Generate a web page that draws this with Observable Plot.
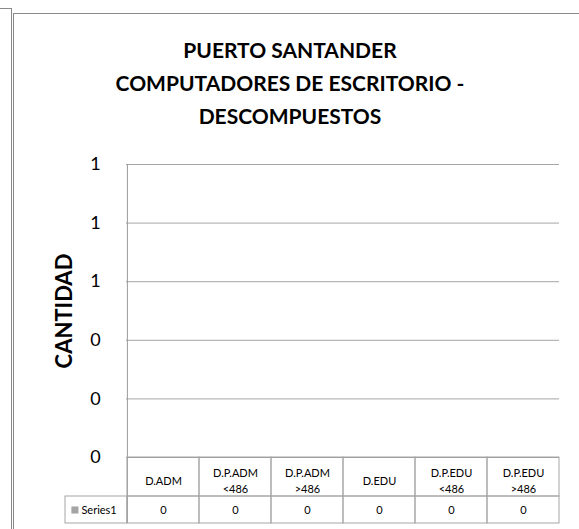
<!DOCTYPE html>
<html><head><meta charset="utf-8">
<script src="https://cdn.jsdelivr.net/npm/d3@7"></script>
<script src="https://cdn.jsdelivr.net/npm/@observablehq/plot@0.6"></script>
<style>
html,body{margin:0;padding:0;width:579px;height:529px;overflow:hidden;background:#fff;font-family:Lato,sans-serif;}
#prev{position:absolute;left:-10px;top:8px;width:21px;height:600px;border-top:1px solid #8a8a8a;border-right:1px solid #8a8a8a;}
#box{position:absolute;left:13px;top:13px;width:700px;height:700px;border-left:1px solid #8a8a8a;border-top:1px solid #8a8a8a;}
#title{position:absolute;left:0;top:33px;width:580px;text-align:center;font-weight:bold;font-size:21px;line-height:33px;color:#000;}
#chart{position:absolute;left:0;top:140px;}
</style></head><body>
<div id="prev"></div>
<div id="box"></div>
<div id="title"></div>
<div id="chart"></div>
<script>
const titleLines = ["PUERTO SANTANDER", "COMPUTADORES DE ESCRITORIO -", "DESCOMPUESTOS"];
const categories = ["D.ADM", "D.P.ADM\n<486", "D.P.ADM\n>486", "D.EDU", "D.P.EDU\n<486", "D.P.EDU\n>486"];
const series1 = [0, 0, 0, 0, 0, 0];
const seriesName = "Series1";
const yTicks = [0, 0.2, 0.4, 0.6, 0.8, 1];
const yLabel = "CANTIDAD";

const data = categories.map((c, i) => ({cat: c, value: series1[i]}));

const titleEl = document.getElementById("title");
titleLines.forEach((t, i) => {
  if (i) titleEl.appendChild(document.createElement("br"));
  titleEl.appendChild(document.createTextNode(t));
});

const W = 579, H = 389, mT = 24, mB = 72, mL = 126, mR = 20;
const bw = (W - mL - mR) / categories.length;
const frameH = H - mT - mB;
const headH = 39, rowH = 27;
const lineC = "#a6a6a6";

const chart = Plot.plot({
  width: W, height: H,
  marginTop: mT, marginBottom: mB, marginLeft: mL, marginRight: mR,
  style: {fontFamily: "Lato, sans-serif", color: "#000", background: "transparent", overflow: "visible"},
  x: {domain: categories, padding: 0, axis: null},
  y: {domain: [0, 1], axis: null},
  marks: [
    Plot.gridY(yTicks, {stroke: lineC, strokeOpacity: 1}),
    Plot.barY(data, {x: "cat", y: "value", fill: "#a5a5a5"}),
    Plot.ruleY([0], {stroke: "#9a9a9a"}),
    Plot.ruleX([categories[0]], {dx: -bw / 2, insetBottom: -(headH + rowH), stroke: "#9a9a9a"}),
    Plot.cell(categories, {x: d => d, insetTop: frameH, insetBottom: -headH, stroke: lineC, fill: "none"}),
    Plot.cell(categories, {x: d => d, insetTop: frameH + headH, insetBottom: -(headH + rowH), stroke: lineC, fill: "none"}),
    Plot.cell([categories[0]], {x: d => d, dx: -bw, insetLeft: bw - 62, insetTop: frameH + headH, insetBottom: -(headH + rowH), stroke: lineC, fill: "none"}),
    Plot.text(categories, {x: d => d, text: d => d, frameAnchor: "bottom", lineAnchor: "middle", dy: 22.5, fontSize: 11, lineHeight: 1.45}),
    Plot.text(data, {x: "cat", text: d => String(d.value), frameAnchor: "bottom", lineAnchor: "middle", dy: headH + rowH / 2, fontSize: 11}),
    Plot.text([seriesName], {x: () => categories[0], dx: -bw / 2 - 46, textAnchor: "start", frameAnchor: "bottom", lineAnchor: "middle", dy: headH + rowH / 2, fontSize: 11}),
    Plot.dot([seriesName], {x: () => categories[0], dx: -bw / 2 - 52.5, frameAnchor: "bottom", dy: headH + rowH / 2, symbol: "square", r: 4, fill: "#a5a5a5", stroke: "none"}),
    Plot.text([yLabel], {frameAnchor: "left", textAnchor: "middle", lineAnchor: "middle", dx: -62, rotate: -90, fontWeight: "bold", fontSize: 22}),
    Plot.axisY(yTicks, {label: null, tickFormat: d3.format(".0f"), tickSize: 0, tickPadding: 31, textAnchor: "middle", fontSize: 18})
  ]
});
document.getElementById("chart").appendChild(chart);
</script>
</body></html>
